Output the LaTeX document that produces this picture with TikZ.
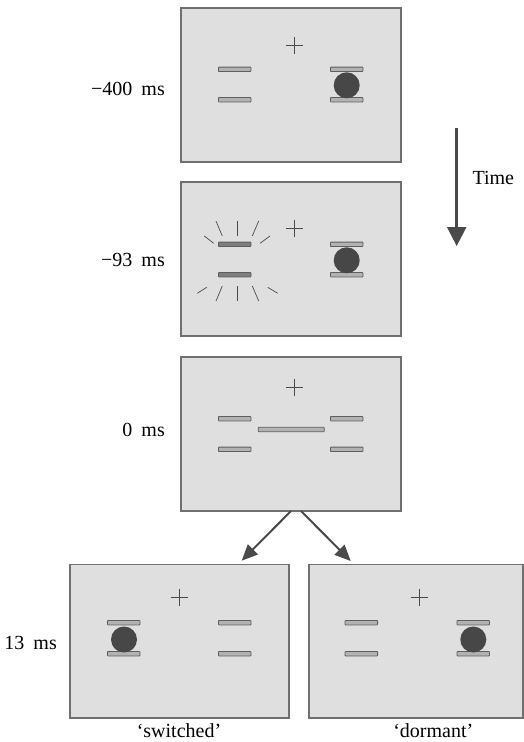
\documentclass[tikz,border=0pt]{standalone}
\usepackage{fontspec}
\setmainfont{Liberation Serif}
\newfontfamily\lblfont{Liberation Serif}
\usetikzlibrary{arrows.meta}
\definecolor{panelfill}{HTML}{DFDFE0}
\definecolor{paneledge}{HTML}{707070}
\definecolor{barfill}{HTML}{B2B2B2}
\definecolor{baredge}{HTML}{5E5E5E}
\definecolor{barhot}{HTML}{7E7E7E}
\definecolor{dotcol}{HTML}{474747}
\definecolor{inkcol}{HTML}{4A4A4A}
\newcommand\barat[3][barshape]{\path[#1] (#2-16.3,#3-2.2) rectangle (#2+16.3,#3+2.2);}
\newcommand\fixat[2]{\draw[fixcross] (#1-8.5,#2) -- (#1+8.5,#2) (#1,#2-8.5) -- (#1,#2+8.5);}
\newcommand\dotat[2]{\fill[dotcol] (#1,#2) circle[radius=13];}
\begin{document}
\begin{tikzpicture}[x=1pt,y=-1pt,
 panel/.style={draw=paneledge, fill=panelfill, line width=1.2pt, inner sep=0pt, outer sep=0pt, rectangle},
 barshape/.style={draw=baredge, fill=barfill, line width=0.8pt, rounded corners=0.6pt},
 hotbar/.style={draw=baredge, fill=barhot, line width=0.8pt, rounded corners=0.6pt},
 fixcross/.style={draw=inkcol, line width=0.7pt},
 ray/.style={draw=inkcol, line width=0.7pt},
 lbl/.style={font=\lblfont\fontsize{20}{24}\selectfont, inner sep=0pt},
 flow/.style={draw=inkcol, line width=2pt, -{Triangle[width=14pt,length=16pt]}},
 timearrow/.style={draw=inkcol, line width=2.5pt, -{Triangle[width=19pt,length=19pt]}}]
\useasboundingbox (0,0) rectangle (524,742);

% panels
\node[panel, minimum width=220pt, minimum height=154pt] (p1) at (291,85) {};
\node[panel, minimum width=220pt, minimum height=154pt] (p2) at (291,259) {};
\node[panel, minimum width=220pt, minimum height=154pt] (p3) at (291,434) {};
\node[panel, minimum width=219pt, minimum height=153.5pt] (p4) at (179.5,641.25) {};
\node[panel, minimum width=214pt, minimum height=153.5pt] (p5) at (416,641.25) {};

% panel 1 (-400 ms)
\fixat{294.3}{45.7}
\barat{234.7}{69.3}
\barat{234.7}{99.7}
\barat{346.7}{69.3}
\barat{346.7}{99.7}
\dotat{346.7}{85.3}

% panel 2 (-93 ms)
\fixat{294.3}{228.3}
\barat[hotbar]{234.7}{244.3}
\barat[hotbar]{234.7}{274.7}
\barat{346.7}{244.3}
\barat{346.7}{274.7}
\dotat{346.7}{260.3}
\draw[ray] (204.3,236) -- (213.7,243.3);
\draw[ray] (216,221) -- (222.3,236);
\draw[ray] (237.3,221) -- (237.3,236);
\draw[ray] (258.7,221) -- (252.3,236);
\draw[ray] (270,236) -- (260,243.3);
\draw[ray] (197.3,293.3) -- (206.7,287.3);
\draw[ray] (216,301) -- (222.3,286);
\draw[ray] (237.3,286) -- (237.3,301);
\draw[ray] (258.7,301) -- (252.3,286);
\draw[ray] (277.7,293.3) -- (267.7,287.3);

% panel 3 (0 ms)
\fixat{294.3}{387.7}
\barat{234.7}{418.7}
\barat{234.7}{449.3}
\barat{346.7}{418.7}
\barat{346.7}{449.3}
\path[barshape] (258.3,427.3) rectangle (324.3,431.7);

% panel 4 (switched)
\fixat{179}{597.7}
\barat{123.7}{622.7}
\barat{123.7}{653.7}
\barat{234.7}{622.7}
\barat{234.7}{653.7}
\dotat{124}{639.5}

% panel 5 (dormant)
\fixat{419.3}{597.7}
\barat{361.3}{622.7}
\barat{361.3}{653.7}
\barat{473.2}{622.7}
\barat{473.2}{653.7}
\dotat{473.3}{639.5}

% labels
\node[lbl, anchor=east] (l1) at (165,89.3) {−400\hspace{0.45em}ms};
\node[lbl, anchor=east] (l2) at (165,260) {−93\hspace{0.45em}ms};
\node[lbl, anchor=east] (l3) at (165,430) {0\hspace{0.45em}ms};
\node[lbl, anchor=east] (l4) at (57,642.7) {13\hspace{0.45em}ms};
\node[lbl] (s1) at (179,731) {‘switched’};
\node[lbl] (s2) at (433.3,731) {‘dormant’};

% time arrow
\coordinate (ts) at (456.7,128.3);
\coordinate (te) at (456.7,246);
\draw[timearrow] (ts) -- (te);
\node[lbl] (time) at (493.3,178.3) {Time};

% branching arrows
\coordinate (t4) at (241.7,560.7);
\coordinate (t5) at (350.7,561);
\draw[flow] (p3.south) -- (t4);
\draw[flow] ([xshift=10pt]p3.south) -- (t5);
\end{tikzpicture}
\end{document}
